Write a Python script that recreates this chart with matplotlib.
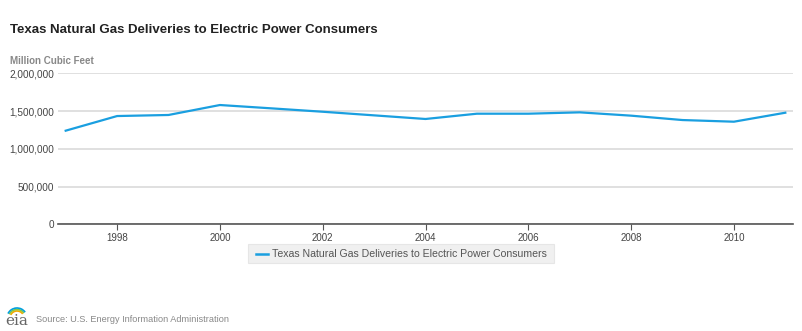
import matplotlib.pyplot as plt
from matplotlib.ticker import FuncFormatter, MultipleLocator
from matplotlib.patches import FancyBboxPatch, Arc

years = [1997, 1998, 1999, 2000, 2001, 2002, 2003, 2004, 2005, 2006, 2007, 2008, 2009, 2010, 2011]
deliveries = [1240000, 1434000, 1448000, 1580000, 1536000, 1491000, 1443000, 1395000,
              1465000, 1465000, 1483000, 1439000, 1381000, 1359000, 1478000]
series_name = "Texas Natural Gas Deliveries to Electric Power Consumers"

plt.rcParams['font.family'] = ['Liberation Sans', 'DejaVu Sans']
LINE_COLOR = '#1a9fe0'

fig = plt.figure(figsize=(8.02, 3.31), dpi=100)
ax = fig.add_axes([0.0723, 0.3224, 0.9165, 0.4561])

ax.plot(years, deliveries, color=LINE_COLOR, lw=1.6, solid_joinstyle='round')
ax.set_xlim(1996.85, 2011.15)
ax.set_ylim(0, 2000000)
ax.yaxis.set_major_locator(MultipleLocator(500000))
ax.yaxis.set_major_formatter(FuncFormatter(lambda v, p: f"{int(v):,}"))
ax.set_xticks(range(1998, 2012, 2))
ax.grid(axis='y', color='#dddddd', lw=1.3)
ax.set_axisbelow(True)
for s in ['top', 'right', 'left']:
    ax.spines[s].set_visible(False)
ax.spines['bottom'].set_color('#555555')
ax.spines['bottom'].set_linewidth(1.2)
ax.tick_params(axis='y', length=0, labelsize=7.2, labelcolor='#444444', pad=3)
ax.tick_params(axis='x', length=4, color='#555555', labelsize=7, labelcolor='#444444', pad=2)

fig.text(10/802, 1 - 30/331, series_name, fontsize=9.5, fontweight='bold', color='#222222', va='center')
fig.text(10/802, 1 - 61/331, "Million Cubic Feet", fontsize=7, fontweight='bold', color='#888888', va='center')

# legend box
fig.patches.append(FancyBboxPatch((248/802, 1 - 263/331), 306/802, 19/331,
                                  boxstyle='square,pad=0', transform=fig.transFigure,
                                  facecolor='#f0f0f0', edgecolor='#e6e6e6', lw=0.8))
fig.add_artist(plt.Line2D([256/802, 268/802], [1 - 254/331] * 2, color=LINE_COLOR, lw=1.8,
                          transform=fig.transFigure))
fig.text(272/802, 1 - 254/331, series_name, fontsize=7.6, color='#555555', va='center')

# footer
fig.text(5/802, 1 - 321/331, "eia", fontsize=11, family='DejaVu Serif', color='#666666', va='center')
for i, c in enumerate(['#f6a800', '#8dc63f', '#00a0dc']):
    fig.add_artist(Arc((17/802, 1 - 318/331), (14 + 3 * i) / 802, (14 + 3 * i) / 331,
                       theta1=60, theta2=130, color=c, lw=1.2, transform=fig.transFigure))
fig.text(36/802, 1 - 319/331, "Source: U.S. Energy Information Administration",
         fontsize=6.6, color='#888888', va='center')

fig.savefig("out.png", dpi=100)
